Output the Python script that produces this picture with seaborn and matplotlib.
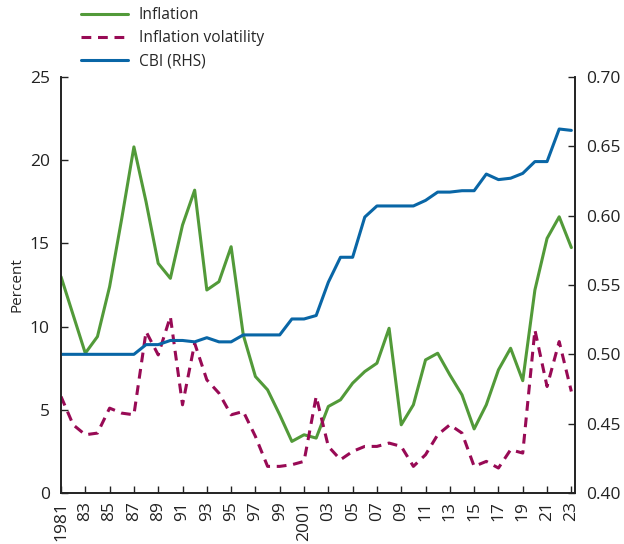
import numpy as np
import pandas as pd
import matplotlib
matplotlib.use("Agg")
import matplotlib.pyplot as plt
import seaborn as sns

years = list(range(1981, 2024))
inflation = [13.0, 10.7, 8.4, 9.4, 12.4, 16.5, 20.8, 17.5, 13.8, 12.9,
             16.1, 18.2, 12.2, 12.7, 14.8, 9.5, 7.0, 6.2, 4.7, 3.1,
             3.5, 3.3, 5.2, 5.6, 6.6, 7.3, 7.8, 9.9, 4.1, 5.3,
             8.0, 8.4, 7.1, 5.9, 3.85, 5.3, 7.4, 8.7, 6.75, 12.2,
             15.3, 16.6, 14.75]
volatility = [5.8, 4.1, 3.5, 3.6, 5.1, 4.8, 4.7, 9.7, 8.3, 10.6,
              5.3, 9.0, 6.8, 6.0, 4.7, 4.9, 3.4, 1.6, 1.6, 1.7,
              1.9, 5.8, 2.8, 2.0, 2.5, 2.8, 2.8, 3.0, 2.8, 1.6,
              2.3, 3.5, 4.1, 3.6, 1.6, 1.9, 1.5, 2.6, 2.4, 9.8,
              6.4, 9.1, 6.1]
cbi = [0.500, 0.500, 0.500, 0.500, 0.500, 0.500, 0.500, 0.507, 0.507, 0.510,
       0.510, 0.509, 0.512, 0.509, 0.509, 0.514, 0.514, 0.514, 0.514, 0.5255,
       0.5255, 0.528, 0.552, 0.570, 0.570, 0.599, 0.607, 0.607, 0.607, 0.607,
       0.611, 0.617, 0.617, 0.618, 0.618, 0.630, 0.626, 0.627, 0.6305, 0.639,
       0.639, 0.6625, 0.6615]
tick_years = list(range(1981, 2024, 2))
tick_labels = ["1981" if y == 1981 else ("2001" if y == 2001 else str(y)[2:]) for y in tick_years]

df = pd.DataFrame({"year": years, "inflation": inflation,
                   "volatility": volatility, "cbi": cbi})

sns.set_style("white")
plt.rcParams["font.family"] = ["Open Sans", "DejaVu Sans"]
plt.rcParams["font.size"] = 12.5

green = "#529A39"
maroon = "#980A55"
blue = "#0966A6"

fig = plt.figure(figsize=(6.24, 5.44), dpi=100)
ax = fig.add_axes([61 / 624, 1 - 493 / 544, 514 / 624, 416 / 544])
ax2 = ax.twinx()

sns.lineplot(data=df, x="year", y="inflation", ax=ax, color=green, lw=2.2, label="Inflation", legend=False)
sns.lineplot(data=df, x="year", y="volatility", ax=ax, color=maroon, lw=2.2,
             dashes=False, label="Inflation volatility", legend=False)
ax.lines[-1].set_dashes((3.2, 2.2))
sns.lineplot(data=df, x="year", y="cbi", ax=ax2, color=blue, lw=2.2, label="CBI (RHS)", legend=False)

ax.set_xlim(1981, 2023.3)
ax.set_ylim(0, 25)
ax2.set_ylim(0.40, 0.70)
ax.set_yticks([0, 5, 10, 15, 20, 25])
ax2.set_yticks([0.40, 0.45, 0.50, 0.55, 0.60, 0.65, 0.70])
ax2.set_yticklabels([f"{v:.2f}" for v in [0.40, 0.45, 0.50, 0.55, 0.60, 0.65, 0.70]])
ax.set_xticks(tick_years)
ax.set_xticklabels(tick_labels, rotation=90)
ax.set_xlabel("")
ax.set_ylabel("Percent", fontsize=11)
ax2.set_ylabel("")

for a in (ax, ax2):
    a.spines["top"].set_visible(False)
    for s in ("left", "right", "bottom"):
        a.spines[s].set_color("#222222")
        a.spines[s].set_linewidth(1.2)
    a.tick_params(direction="in", length=5, width=1, color="#222222", labelcolor="#222222")
ax.tick_params(axis="y", left=True, right=False, pad=8)
ax.tick_params(axis="x", bottom=True, pad=6)
ax2.tick_params(axis="y", right=True, left=False, pad=8)

handles = ax.lines[:2] + ax2.lines[:1]
labels = ["Inflation", "Inflation volatility", "CBI (RHS)"]
fig.legend(handles, labels, loc="upper left", bbox_to_anchor=(67 / 624, 1.012),
           frameon=False, handlelength=3.0, handletextpad=0.7, labelspacing=0.45, fontsize=11.2)

fig.savefig("out.png", dpi=100)
